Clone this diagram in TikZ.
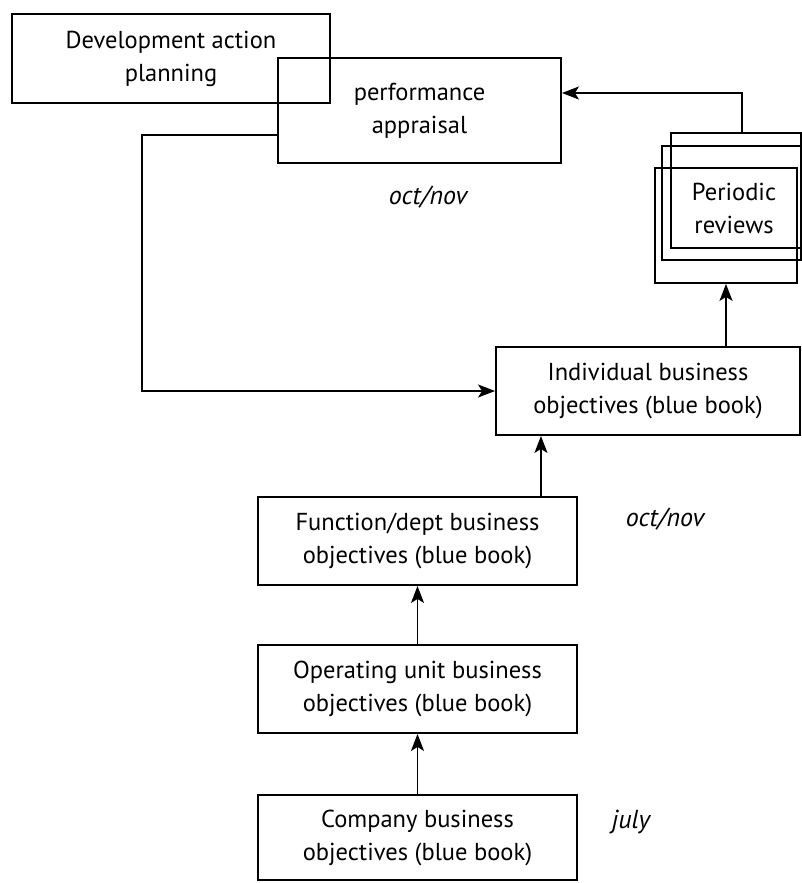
\documentclass[tikz,border=0pt]{standalone}
\usepackage{fontspec}
\setmainfont{PT Sans}
\usetikzlibrary{positioning, arrows.meta}

\begin{document}
\begin{tikzpicture}[
  x=1pt, y=-1pt,
  box/.style={draw, line width=1.9pt, minimum height=88pt, align=center, inner sep=0pt, font=\fontsize{24.5}{33}\selectfont},
  stack/.style={draw, line width=1.8pt, inner sep=0pt},
  arr/.style={-{Stealth[length=17pt, width=13pt, inset=4pt]}, line width=1.6pt},
  when/.style={font=\fontsize{26}{28}\selectfont\itshape}
]
  \useasboundingbox (0,0) rectangle (802,883);

  % top row
  \node[box, minimum width=318pt, minimum height=89pt, line width=2.4pt] (devplan) at (171,58.5) {Development action\\planning};
  \node[box, minimum width=283pt, minimum height=105pt] (perf) at (419.5,110.5) {performance\\appraisal};
  \node[when] (oct1) at (428,197) {oct/nov};

  % periodic reviews, stacked sheets
  \node[stack, minimum width=130pt, minimum height=115pt] (reviewA) at (736,190.5) {};
  \node[stack, minimum width=139pt, minimum height=114pt] (reviewB) at (731.5,203) {};
  \node[stack, minimum width=142pt, minimum height=115pt] (reviewC) at (726,225.5) {};
  \node[align=center, font=\fontsize{24.5}{33}\selectfont] (review) at (734,208) {Periodic\\reviews};

  % objectives chain
  \node[box, minimum width=304pt] (indiv) at (648,391) {Individual business\\objectives (blue book)};
  \node[box, minimum width=319pt] (func) at (417.5,541) {Function/dept business\\objectives (blue book)};
  \node[box, minimum width=319pt] (oper) at (417.5,689) {Operating unit business\\objectives (blue book)};
  \node[box, minimum width=319pt, minimum height=85pt] (comp) at (417.5,837.5) {Company business\\objectives (blue book)};
  \node[when] (oct2) at (665,519) {oct/nov};
  \node[when] (july) at (631,822) {july};

  \draw[arr] (comp) -- (oper);
  \draw[arr] (oper) -- (func);
  \draw[arr] ([xshift=-37pt]func.north east) -- ([xshift=-37pt]func.north east |- indiv.south);
  \draw[arr] (reviewC.south |- indiv.north) -- (reviewC.south);
  \draw[arr] ([xshift=6pt]reviewA.north) |- ([yshift=17.5pt]perf.east);
  \draw[arr] ([yshift=-24.5pt]perf.west) -- ++(-135,0) |- (indiv.west);
\end{tikzpicture}
\end{document}
